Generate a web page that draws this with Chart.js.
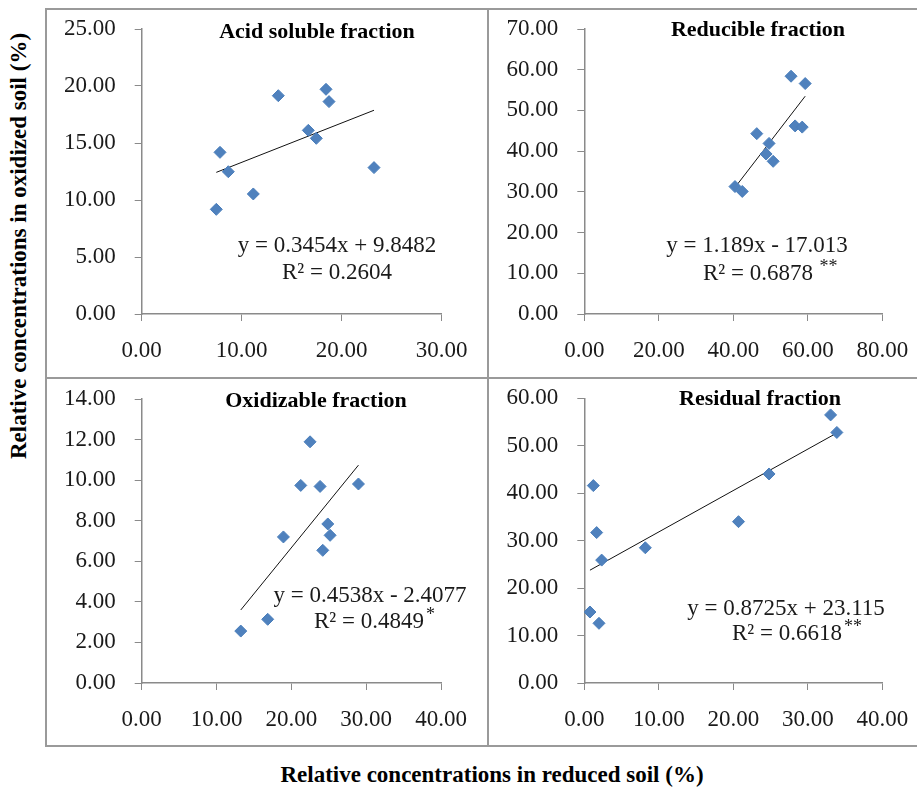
<!DOCTYPE html>
<html>
<head>
<meta charset="utf-8">
<script src="https://cdn.jsdelivr.net/npm/chart.js@4"></script>
<style>
  body { margin: 0; background: #fff; }
  #page { position: relative; width: 917px; height: 787px; overflow: hidden; font-family: 'Liberation Serif', 'Times New Roman', serif; color: #1a1a1a; }
  canvas { position: absolute; }
  .line { position: absolute; background: #9a9a9a; }
  .title { position: absolute; font-weight: bold; font-size: 22px; line-height: 1; transform: translate(-50%, -50%); white-space: nowrap; color: #000; }
  .eq { position: absolute; font-size: 23px; line-height: 1; transform: translate(-50%, -50%); white-space: nowrap; }
  .eq .star { position: absolute; left: 100%; top: -4px; font-size: 18px; padding-left: 2px; }
  .axt { position: absolute; font-weight: bold; font-size: 23px; line-height: 1; white-space: nowrap; color: #000; transform: translate(-50%, -50%); }
  .axt.rot { transform: translate(-50%, -50%) rotate(-90deg); }
</style>
</head>
<body>
<div id="page">
  <div class="line" style="left:45px; top:8px; width:872px; height:2px;"></div>
  <div class="line" style="left:45px; top:377px; width:872px; height:2px;"></div>
  <div class="line" style="left:45px; top:745px; width:872px; height:2px;"></div>
  <div class="line" style="left:45px; top:8px; width:2px; height:739px;"></div>
  <div class="line" style="left:487px; top:8px; width:2px; height:739px;"></div>

  <canvas id="c1" width="441" height="368" style="left:46px; top:9px;"></canvas>
  <canvas id="c2" width="427" height="368" style="left:490px; top:9px;"></canvas>
  <canvas id="c3" width="441" height="366" style="left:46px; top:380px;"></canvas>
  <canvas id="c4" width="427" height="366" style="left:490px; top:380px;"></canvas>

  <div class="title" style="left:317px; top:31px;">Acid soluble fraction</div>
  <div class="title" style="left:758px; top:29px;">Reducible fraction</div>
  <div class="title" style="left:316px; top:400px;">Oxidizable fraction</div>
  <div class="title" style="left:760px; top:398px;">Residual fraction</div>

  <div class="eq" style="left:337px; top:244px;">y = 0.3454x + 9.8482</div>
  <div class="eq" style="left:337px; top:271px;">R² = 0.2604</div>
  <div class="eq" style="left:757px; top:244px;">y = 1.189x - 17.013</div>
  <div class="eq" style="left:758px; top:272px;">R² = 0.6878<span class="star">&nbsp;**</span></div>
  <div class="eq" style="left:370px; top:594px;">y = 0.4538x - 2.4077</div>
  <div class="eq" style="left:369px; top:620px;">R² = 0.4849<span class="star">*</span></div>
  <div class="eq" style="left:786px; top:607px;">y = 0.8725x + 23.115</div>
  <div class="eq" style="left:787px; top:632px;">R² = 0.6618<span class="star">**</span></div>

  <div class="axt rot" style="left:18px; top:246px;">Relative concentrations in oxidized soil (%)</div>
  <div class="axt" style="left:492px; top:774px;">Relative concentrations in reduced soil (%)</div>
</div>

<script>
// =====================
// Data
// =====================
const acidX = [7.46, 7.83, 8.66, 11.16, 13.66, 16.66, 17.46, 18.43, 18.73, 23.23];
const acidY = [9.18, 14.18, 12.48, 10.53, 19.15, 16.11, 15.41, 19.71, 18.63, 12.84];

const reducX = [40.45, 42.4, 46.3, 48.8, 49.6, 50.7, 55.5, 56.6, 58.5, 59.3];
const reducY = [31.3, 30.1, 44.3, 39.3, 41.9, 37.5, 58.4, 46.2, 45.9, 56.6];

const oxidX = [13.24, 16.84, 18.94, 21.26, 22.5, 23.84, 24.2, 24.87, 25.18, 28.97];
const oxidY = [2.56, 3.14, 7.2, 9.74, 11.89, 9.69, 6.54, 7.84, 7.28, 9.81];

const residX = [0.76, 1.21, 1.66, 1.97, 2.33, 8.19, 20.7, 24.8, 33.06, 33.9];
const residY = [14.96, 41.6, 31.7, 12.58, 25.9, 28.5, 34.0, 44.05, 56.5, 52.8];

// linear trend lines (slope, intercept) as printed on each panel
const slopes = [0.3454, 1.189, 0.4538, 0.8725];
const intercepts = [9.8482, -17.013, -2.4077, 23.115];

// axis ranges
const xMaxes = [30, 80, 40, 40];
const xSteps = [10, 20, 10, 10];
const yMaxes = [25, 70, 14, 60];
const ySteps = [5, 10, 2, 10];

Chart.defaults.font.family = "'Liberation Serif', 'Times New Roman', serif";
Chart.defaults.color = '#1a1a1a';

const axisGray = '#8a8a8a';

function makePanel(id, idx, xs, ys, box) {
    const points = xs.map((x, i) => ({x: x, y: ys[i]}));
    const lo = Math.min(...xs);
    const hi = Math.max(...xs);
    const trend = [lo, hi].map(x => ({x: x, y: slopes[idx] * x + intercepts[idx]}));

    const tickFont = {size: 23};
    return new Chart(document.getElementById(id), {
        type: 'scatter',
        data: {
            datasets: [
                {
                    data: points,
                    pointStyle: 'rectRot',
                    pointRadius: 6,
                    backgroundColor: '#4f81bd',
                    borderColor: '#4a7ebb',
                    borderWidth: 1
                },
                {
                    data: trend,
                    showLine: true,
                    pointRadius: 0,
                    borderColor: '#111',
                    borderWidth: 1
                }
            ]
        },
        options: {
            responsive: false,
            animation: false,
            events: [],
            layout: {padding: {left: 0, top: box.top, right: box.right, bottom: 0}},
            plugins: {legend: {display: false}, tooltip: {enabled: false}},
            scales: {
                x: {
                    type: 'linear',
                    min: 0,
                    max: xMaxes[idx],
                    ticks: {stepSize: xSteps[idx], font: tickFont, padding: 16, maxRotation: 0,
                        callback: v => v.toFixed(2)},
                    grid: {drawOnChartArea: false, drawTicks: true, tickLength: 7, color: axisGray},
                    border: {color: axisGray, width: 1.5},
                    afterFit: s => {
                        s.height = box.bottom;
                        s.paddingLeft = 0;
                        s.paddingRight = 0;
                    }
                },
                y: {
                    type: 'linear',
                    min: 0,
                    max: yMaxes[idx],
                    ticks: {stepSize: ySteps[idx], font: tickFont, padding: 19,
                        callback: v => v.toFixed(2)},
                    grid: {drawOnChartArea: false, drawTicks: true, tickLength: 7, color: axisGray},
                    border: {color: axisGray, width: 1.5},
                    afterFit: s => {
                        s.width = box.left;
                        s.paddingTop = 0;
                        s.paddingBottom = 0;
                    }
                }
            }
        }
    });
}

makePanel('c1', 0, acidX, acidY, {left: 95.7, top: 20, right: 45.3, bottom: 63});
makePanel('c2', 1, reducX, reducY, {left: 94.3, top: 20, right: 34.7, bottom: 63});
makePanel('c3', 2, oxidX, oxidY, {left: 95.7, top: 19, right: 46, bottom: 63});
makePanel('c4', 3, residX, residY, {left: 94.3, top: 18.3, right: 34.7, bottom: 63});
</script>
</body>
</html>
